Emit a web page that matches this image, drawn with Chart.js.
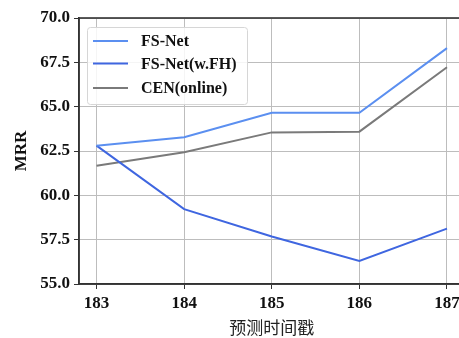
<!DOCTYPE html>
<html>
<head>
<meta charset="utf-8">
<style>
  html, body { margin: 0; padding: 0; background: #ffffff; overflow: hidden; }
  #wrap { width: 470px; height: 338px; }
</style>
<script src="https://cdn.jsdelivr.net/npm/chart.js@4/dist/chart.umd.min.js"></script>
</head>
<body>
<div id="wrap"><canvas id="c" width="470" height="338"></canvas></div>
<script>
// Prediction timestamps (x axis)
const timestamps = [183, 184, 185, 186, 187];
// MRR per model
const fsNet = [62.8, 63.28, 64.65, 64.66, 68.3];
const fsNetFH = [62.8, 59.22, 57.68, 56.3, 58.12];
const cenOnline = [61.67, 62.43, 63.55, 63.59, 67.22];
// Tick labels
const yTicks = [55, 57.5, 60, 62.5, 65, 67.5, 70];

const SERIF = '"Liberation Serif", "Times New Roman", serif';
const toPoints = arr => arr.map((v, i) => ({ x: timestamps[i], y: v }));

// Full box around the plot area
const frame = {
  id: 'frame',
  afterDatasetsDraw(chart) {
    const { ctx, chartArea: a } = chart;
    ctx.save();
    ctx.strokeStyle = '#333333';
    ctx.lineWidth = 1.6;
    ctx.strokeRect(a.left, a.top, a.right - a.left, a.bottom - a.top);
    ctx.restore();
  }
};

// Legend drawn inside the plot, upper-left
const innerLegend = {
  id: 'innerLegend',
  afterDraw(chart) {
    const { ctx } = chart;
    const x0 = 87, y0 = 27, w = 160, h = 77;
    ctx.save();
    ctx.fillStyle = 'rgba(255,255,255,0.85)';
    ctx.strokeStyle = '#d6d6d6';
    ctx.lineWidth = 1;
    ctx.beginPath();
    ctx.roundRect(x0 + 0.5, y0 + 0.5, w, h, 3);
    ctx.fill();
    ctx.stroke();
    const rows = [41, 63.5, 88];
    ctx.font = 'bold 16px ' + SERIF;
    ctx.textBaseline = 'middle';
    chart.data.datasets.forEach((ds, i) => {
      const y = rows[i];
      ctx.strokeStyle = ds.borderColor;
      ctx.lineWidth = 2;
      ctx.beginPath();
      ctx.moveTo(93, y);
      ctx.lineTo(128, y);
      ctx.stroke();
      ctx.fillStyle = '#111111';
      ctx.fillText(ds.label, 141, y + 1);
    });
    ctx.restore();
  }
};

new Chart(document.getElementById('c'), {
  type: 'line',
  data: {
    datasets: [
      { label: 'FS-Net', data: toPoints(fsNet), borderColor: '#5b8ff0', borderWidth: 2 },
      { label: 'FS-Net(w.FH)', data: toPoints(fsNetFH), borderColor: '#3f66e0', borderWidth: 2 },
      { label: 'CEN(online)', data: toPoints(cenOnline), borderColor: '#7a7a7a', borderWidth: 2 }
    ]
  },
  options: {
    responsive: false,
    animation: false,
    layout: { padding: { top: 18, right: 5.5, left: 0, bottom: 0 } },
    elements: { point: { radius: 0 }, line: { tension: 0 } },
    plugins: { legend: { display: false }, tooltip: { enabled: false } },
    scales: {
      x: {
        type: 'linear',
        min: 182.8,
        max: 187.2,
        afterBuildTicks: s => { s.ticks = timestamps.map(v => ({ value: v })); },
        afterFit: s => { s.height = 54; },
        grid: { color: '#bdbdbd', lineWidth: 1, tickColor: '#333333', tickLength: 5 },
        border: { color: '#333333', width: 1.6 },
        ticks: {
          color: '#111111',
          font: { family: SERIF, size: 17, weight: 'bold' },
          padding: 4,
          maxRotation: 0,
          callback: v => String(v)
        },
        title: {
          display: true,
          text: '预测时间戳',
          color: '#222222',
          font: { family: '"Noto Sans CJK SC", sans-serif', size: 17 },
          padding: { top: 0, bottom: 0 }
        }
      },
      y: {
        min: 55,
        max: 70,
        afterBuildTicks: s => { s.ticks = yTicks.map(v => ({ value: v })); },
        afterFit: s => { s.width = 79; },
        grid: { color: '#bdbdbd', lineWidth: 1, tickColor: '#333333', tickLength: 5 },
        border: { color: '#333333', width: 1.6 },
        ticks: {
          color: '#111111',
          font: { family: SERIF, size: 17, weight: 'bold' },
          padding: 4,
          callback: v => Number(v).toFixed(1)
        },
        title: {
          display: true,
          text: 'MRR',
          color: '#111111',
          font: { family: SERIF, size: 17, weight: 'bold' },
          padding: { top: 11, bottom: 2 }
        }
      }
    }
  },
  plugins: [frame, innerLegend]
});
</script>
</body>
</html>
